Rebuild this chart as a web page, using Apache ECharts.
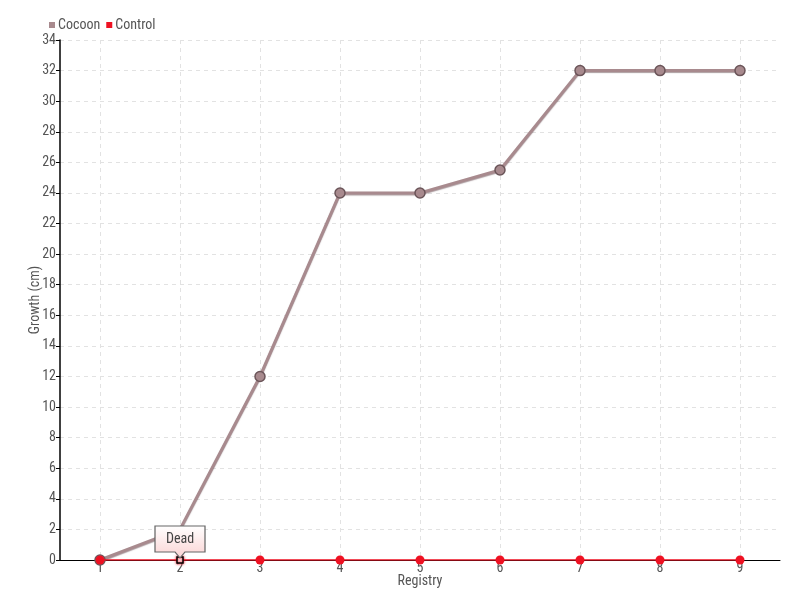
<!DOCTYPE html>
<html><head><meta charset="utf-8">
<script src="https://cdn.jsdelivr.net/npm/echarts@6/dist/echarts.min.js"></script>
<style>html,body{margin:0;padding:0;background:#fff}#c{width:800px;height:600px}</style>
</head><body><div id="c"></div>
<script>
const categories = ['1','2','3','4','5','6','7','8','9'];
const cocoonValues = [0, 2, 12, 24, 24, 25.5, 32, 32, 32];
const controlValues = [0, 0, 0, 0, 0, 0, 0, 0, 0];
const deadIndex = 1;
const deadLabel = 'Dead';
const FONT = "'Roboto Condensed', Roboto, sans-serif";

const chart = echarts.init(document.getElementById('c'));
const controlData = controlValues.map((v, i) => i === deadIndex
  ? { value: v, symbol: 'rect', symbolSize: 6, itemStyle: { color: '#fff', borderColor: '#000', borderWidth: 1.5, shadowColor: '#e8101e', shadowBlur: 3 } }
  : v);
const cocoonData = cocoonValues.map((v, i) => i === deadIndex ? { value: v, symbolSize: 0 } : v);

chart.setOption({
  animation: false,
  textStyle: { fontFamily: FONT },
  legend: {
    left: 44, top: 13, itemWidth: 6, itemHeight: 6, itemGap: 6, icon: 'rect',
    itemStyle: { borderWidth: 0 },
    textStyle: { fontFamily: FONT, fontSize: 14, color: '#555', padding: [0,0,0,-2] },
    data: ['Cocoon', 'Control']
  },
  grid: { left: 60, right: 20, top: 40, bottom: 40, containLabel: false },
  xAxis: {
    type: 'category', data: categories, boundaryGap: true,
    name: 'Registry', nameLocation: 'middle', nameGap: 14, nameMoveOverlap: false,
    nameTextStyle: { fontFamily: FONT, fontSize: 14, color: '#555' },
    axisLine: { lineStyle: { color: '#000', width: 1 } },
    axisTick: { show: false },
    axisLabel: { fontFamily: FONT, fontSize: 14, color: '#555', margin: 1 },
    splitLine: { show: true, alignWithLabel: true, lineStyle: { type: [4, 4], color: '#e2e2e2' } }
  },
  yAxis: {
    type: 'value', min: 0, max: 34, interval: 2,
    name: 'Growth (cm)', nameLocation: 'middle', nameGap: 18, nameMoveOverlap: false,
    nameTextStyle: { fontFamily: FONT, fontSize: 14, color: '#555' },
    axisLine: { show: true, lineStyle: { color: '#000', width: 1.5 } },
    axisTick: { show: true, length: 4, lineStyle: { color: '#000' } },
    axisLabel: { fontFamily: FONT, fontSize: 14, color: '#555', margin: 4 },
    splitLine: { show: true, lineStyle: { type: [4, 4], color: '#e2e2e2' } }
  },
  series: [
    {
      name: 'Cocoon', type: 'line', data: cocoonData,
      symbol: 'circle', symbolSize: 10,
      itemStyle: { color: '#a88a8e', borderColor: '#6b5559', borderWidth: 1.5 },
      lineStyle: { color: '#a88a8e', width: 3, shadowColor: 'rgba(90,60,65,0.5)', shadowBlur: 1, shadowOffsetY: 1 },
      z: 2
    },
    {
      name: 'Control', type: 'line', data: controlData,
      symbol: 'circle', symbolSize: 9,
      itemStyle: { color: '#ee1122' },
      lineStyle: { color: '#ee1122', width: 1.5 },
      z: 3,
      markPoint: {
        symbol: 'path://M0,0 L50,0 L50,26 L30,26 L25,32 L20,26 L0,26 Z',
        symbolSize: [50, 32], symbolKeepAspect: false,
        symbolOffset: [0, -18],
        itemStyle: {
          color: new echarts.graphic.LinearGradient(0, 0, 0, 1, [
            { offset: 0, color: '#ffffff' }, { offset: 1, color: '#fbd3d3' }
          ]),
          borderColor: '#666', borderWidth: 1
        },
        label: { show: true, formatter: deadLabel, position: 'inside', offset: [0, -3], fontFamily: FONT, fontSize: 14, color: '#444' },
        data: [{ coord: [deadIndex, controlValues[deadIndex]] }]
      }
    }
  ]
});
</script></body></html>
